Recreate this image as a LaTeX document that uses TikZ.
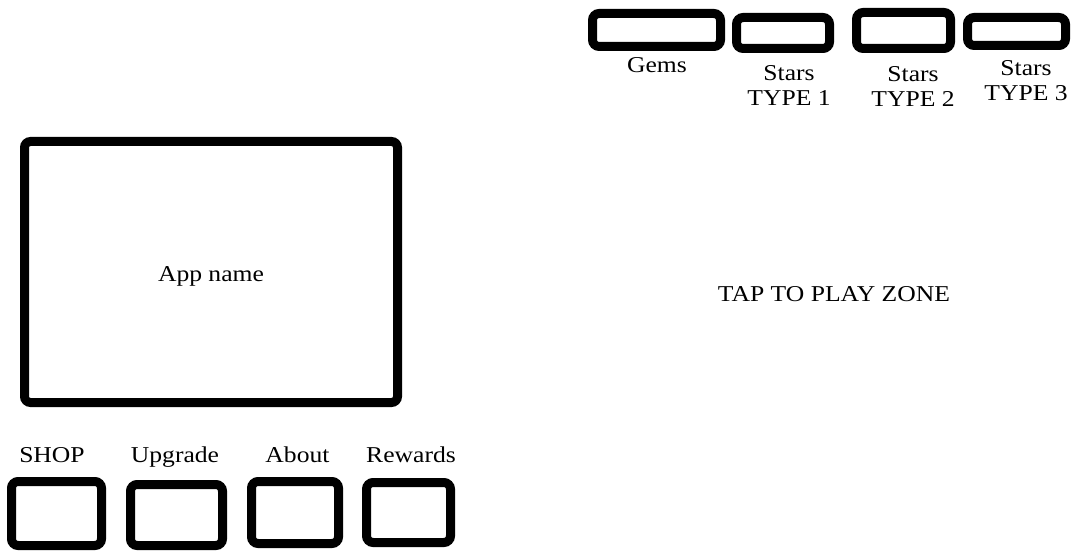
\documentclass[tikz,border=0pt]{standalone}
\usepackage{fontspec}
\setmainfont{Liberation Serif}[FakeStretch=1.13]
\usepackage{tikz}

\tikzset{
  slot/.style={draw, line width=6.75, rounded corners=5, inner sep=0},
  lbl/.style={font=\fontsize{17}{19}\selectfont, inner sep=0},
  lbl2/.style={font=\fontsize{17}{18.75}\selectfont, inner sep=0, align=center}
}

\begin{document}
\begin{tikzpicture}[x=0.75pt,y=0.75pt,yscale=-1,xscale=1]
\useasboundingbox (0,0) rectangle (1075,552);

%Shape: Rounded Rect -- currency bar
\node [slot, minimum width=96, minimum height=24.75] (gems) at (656.5,30) {};
\node [slot, minimum width=69.75, minimum height=23.25] (starsA) at (783,33) {};
\node [slot, minimum width=70.5, minimum height=27] (starsB) at (903.5,30.5) {};
\node [slot, minimum width=73.5, minimum height=21] (starsC) at (1016.5,31.5) {};

%Text
\node [lbl, anchor=base] (gemsT) at (657,73) {Gems};
\node [lbl2] (starsAT) at (789,85) {Stars\\TYPE 1};
\node [lbl2] (starsBT) at (913,86) {Stars\\TYPE 2};
\node [lbl2] (starsCT) at (1026,81) {Stars\\TYPE 3};

%Shape: Rounded Rect -- logo
\node [slot, minimum width=279.75, minimum height=195.75, rounded corners=4.5] (logo) at (211,272) {};
\node [lbl, anchor=base] (logoT) at (211,282) {App name};

%Text -- play area
\node [lbl, anchor=base] (play) at (834,302) {TAP TO PLAY ZONE};

%Shape: Rounded Rect -- menu buttons
\node [slot, minimum width=67.5, minimum height=48] (shop) at (56.5,513.5) {};
\node [slot, minimum width=69, minimum height=45.75] (upgrade) at (176.5,515) {};
\node [slot, minimum width=65.25, minimum height=46.5] (about) at (295,512.5) {};
\node [slot, minimum width=63, minimum height=45] (rewards) at (408.5,512.5) {};

%Text
\node [lbl, anchor=base] (shopT) at (52,462) {SHOP};
\node [lbl, anchor=base] (upgradeT) at (175,462) {Upgrade};
\node [lbl, anchor=base] (aboutT) at (297.5,462) {About};
\node [lbl, anchor=base] (rewardsT) at (411,462) {Rewards};

\end{tikzpicture}
\end{document}
